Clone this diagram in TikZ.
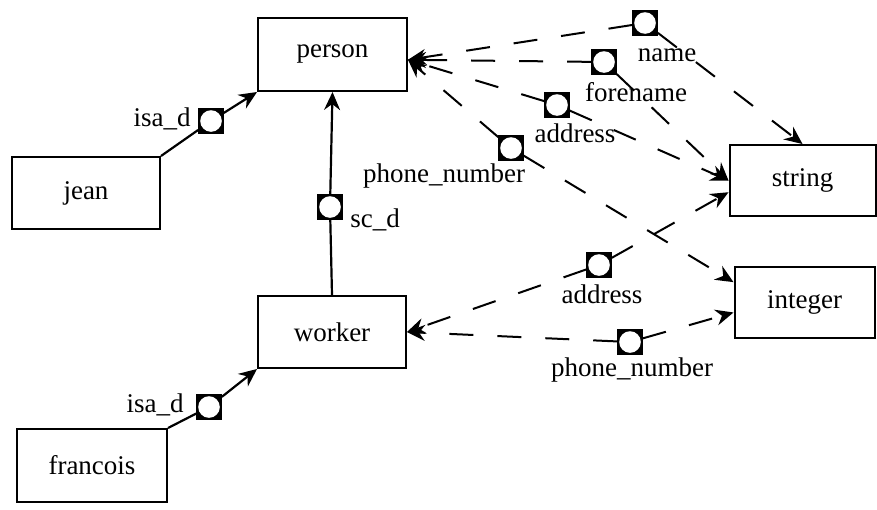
\documentclass[tikz,border=0pt]{standalone}
\usepackage{fontspec}
\setmainfont{Liberation Serif}
\usetikzlibrary{arrows.meta}

\tikzset{
  box/.style={draw, line width=1pt, inner sep=0pt},
  port/.style={draw, fill=black, line width=0.8pt, minimum size=12pt, inner sep=0pt,
    path picture={\fill[white] (path picture bounding box.center) circle (5.4pt);}},
  isa/.style={line width=1.1pt, -{Stealth[length=9pt,width=8pt,inset=3pt]}},
  attr/.style={line width=1pt, dash pattern=on 12pt off 12pt,
    -{Stealth[length=9pt,width=8pt,inset=3pt]}},
  lbl/.style={inner sep=0pt},
}

\begin{document}
\begin{tikzpicture}[x=0.5pt, y=-0.5pt, font=\fontsize{13.5}{16}\selectfont]
  \useasboundingbox (0,0) rectangle (877,509);

  % Classes and types
  \node[box, minimum width=74.5pt, minimum height=36.5pt] (person) at (332.5,54.5) {person};
  \node[box, minimum width=74pt, minimum height=36pt] (jean) at (86,193) {jean};
  \node[box, minimum width=74pt, minimum height=36pt] (worker) at (332,332) {worker};
  \node[box, minimum width=75pt, minimum height=36.5pt] (francois) at (92,465.5) {francois};
  \node[box, minimum width=73pt, minimum height=35.5pt] (string) at (802.5,180.5) {string};
  \node[box, minimum width=70pt, minimum height=35.5pt] (integer) at (804.5,302.5) {integer};

  % Ports on the links
  \node[port] (pisajean) at (211,121) {};
  \node[port] (pisafr) at (209,407) {};
  \node[port] (psc) at (330,207) {};
  \node[port] (pname) at (645,23) {};
  \node[port] (pfore) at (604,62) {};
  \node[port] (paddr) at (557,105) {};
  \node[port] (pphone) at (511,148) {};
  \node[port] (pwaddr) at (599,265) {};
  \node[port] (pwphone) at (630,342) {};

  % Link names
  \node[lbl] at (162,119) {isa\_d};
  \node[lbl] at (155,405) {isa\_d};
  \node[lbl] at (375,220) {sc\_d};
  \node[lbl] at (667,55) {name};
  \node[lbl] at (636,92) {forename};
  \node[lbl] at (575,133) {address};
  \node[lbl] at (444,176) {phone\_number};
  \node[lbl] at (602,294) {address};
  \node[lbl] at (632,370) {phone\_number};

  % isa / sc links
  \draw[isa] (jean.north east) -- (pisajean) -- (person.south west);
  \draw[isa] (francois.north east) -- (pisafr) -- (worker.south west);
  \draw[isa] (worker.north) -- (psc) -- (person.south);

  % attributes of person
  \draw[attr] (pname) -- (person.356);
  \draw[attr] (pfore) -- (person.356);
  \draw[attr] (paddr) -- (person.356);
  \draw[attr] (pphone) -- (person.356);
  \draw[attr] (pname) -- (string.north);
  \draw[attr] (pfore) -- (string.west);
  \draw[attr] (paddr) -- (string.west);
  \draw[attr] (pphone) -- (integer.164);

  % attributes of worker
  \draw[attr] (pwaddr) -- (worker.east);
  \draw[attr] (pwphone) -- (worker.east);
  \draw[attr] (pwaddr) -- (string.189);
  \draw[attr] (pwphone) -- (integer.188);
\end{tikzpicture}
\end{document}
